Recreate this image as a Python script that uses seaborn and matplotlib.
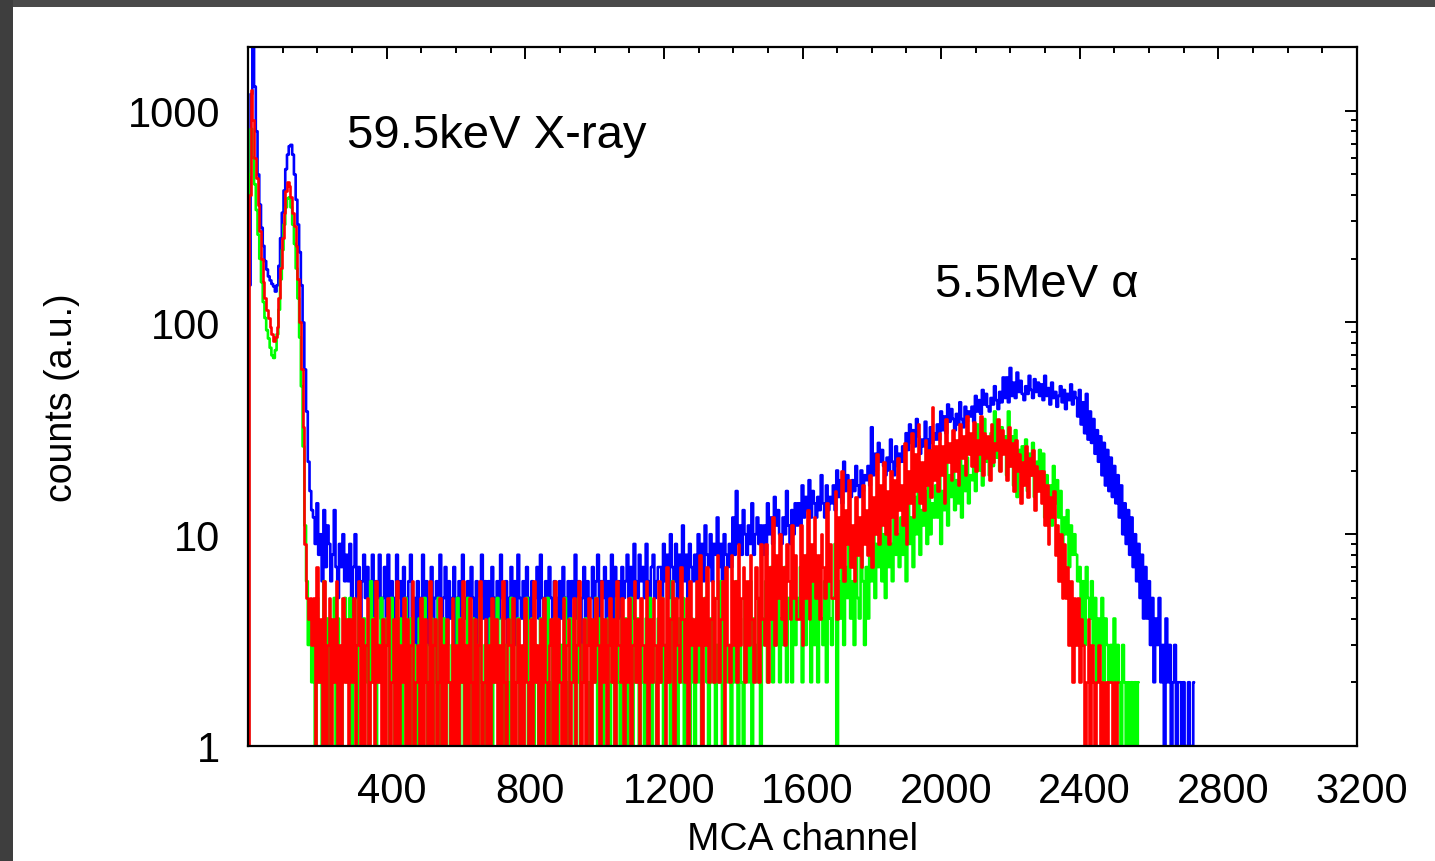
import numpy as np
import pandas as pd
import matplotlib
matplotlib.use("Agg")
import matplotlib.pyplot as plt
import seaborn as sns
from matplotlib.ticker import FixedLocator, MultipleLocator, LogLocator, FuncFormatter, NullFormatter
from matplotlib.patches import Rectangle
from matplotlib.transforms import ScaledTranslation

# ---------------- data ----------------
# channels 0..185, step 5 (low-energy part: 59.5 keV X-ray peak)
peak_start, peak_step = 0, 5
blue_peak = [1, 150, 1200, 2500, 1300, 800, 500, 360, 280, 230,
             195, 178, 165, 158, 152, 148, 140, 150, 185, 250,
             330, 420, 530, 620, 680, 690, 620, 500, 380, 290,
             215, 150, 100, 60, 38, 22, 16, 13]
green_peak = [1, 500, 820, 600, 450, 340, 260, 200, 155, 125,
              105, 92, 84, 76, 70, 68, 74, 88, 115, 160,
              220, 290, 350, 385, 390, 350, 290, 235, 180, 130,
              85, 50, 26, 11, 6, 3, 4, 2]
red_peak = [1, 400, 1250, 900, 600, 480, 360, 270, 200, 155,
            130, 115, 105, 95, 88, 82, 85, 95, 130, 180,
            250, 330, 420, 460, 440, 390, 330, 285, 230, 160,
            100, 60, 32, 9, 5, 4, 5, 3]

# channels from 190 upward, step 5 (flat background + 5.5 MeV alpha bump)
tail_start, tail_step = 190, 5
blue_tail = [
    12, 9, 14, 8, 10, 6, 13, 7, 11, 9, 6, 8, 13, 7, 5, 9, 7, 10, 6, 8,            # 190
    6, 9, 4, 7, 10, 5, 7, 4, 6, 8, 5, 7, 3, 6, 8, 4, 6, 5, 8, 4,                  # 290
    5, 7, 4, 8, 3, 6, 5, 4, 8, 5, 6, 3, 7, 5, 4, 6, 8, 4, 5, 3,                   # 390
    6, 3, 5, 8, 4, 6, 3, 5, 7, 4, 5, 6, 3, 8, 4, 5, 7, 3, 6, 4,                   # 490
    5, 7, 3, 5, 6, 4, 8, 4, 5, 6, 3, 7, 5, 4, 6, 3, 5, 8, 4, 6,                   # 590
    3, 6, 4, 7, 5, 3, 6, 4, 8, 5, 4, 6, 3, 5, 7, 4, 6, 3, 8, 5,                   # 690
    4, 6, 3, 7, 5, 4, 6, 3, 5, 7, 4, 8, 5, 3, 6, 4, 7, 5, 3, 6,                   # 790
    5, 3, 6, 4, 7, 5, 4, 6, 3, 6, 5, 8, 4, 6, 3, 5, 7, 4, 6, 5,                   # 890
    5, 7, 4, 6, 8, 4, 6, 5, 7, 4, 6, 5, 8, 4, 7, 5, 6, 4, 7, 5,                   # 990
    6, 8, 5, 7, 4, 9, 6, 5, 8, 6, 7, 5, 9, 6, 4, 7, 8, 5, 6, 7,                   # 1090
    7, 5, 9, 6, 8, 5, 10, 7, 6, 9, 5, 8, 7, 11, 6, 8, 5, 9, 7, 6,                 # 1190
    8, 6, 10, 7, 9, 6, 11, 8, 7, 10, 6, 9, 8, 12, 7, 9, 6, 10, 8, 7,              # 1290
    9, 7, 12, 8, 16, 9, 11, 8, 13, 10, 8, 11, 9, 14, 8, 10, 12, 9, 11, 8,         # 1390
    11, 8, 14, 10, 12, 9, 15, 11, 13, 10, 9, 12, 10, 16, 11, 9, 13, 10, 14, 11,   # 1490
    14, 11, 17, 12, 15, 13, 18, 12, 16, 14, 12, 15, 13, 19, 14, 12, 17, 13, 15, 14,  # 1590
    17, 13, 20, 15, 18, 14, 22, 16, 19, 17, 15, 18, 16, 21, 17, 15, 20, 16, 19, 18,  # 1690
    21, 17, 32, 19, 24, 20, 27, 22, 25, 21, 19, 23, 20, 28, 22, 19, 26, 21, 24, 22,  # 1790
    26, 22, 30, 25, 33, 27, 31, 26, 35, 29, 24, 28, 26, 34, 28, 25, 32, 27, 30, 28,  # 1890
    33, 28, 38, 31, 36, 30, 41, 34, 39, 35, 31, 37, 33, 42, 35, 32, 40, 34, 38, 36,  # 1990
    40, 34, 45, 38, 43, 37, 48, 41, 46, 40, 38, 44, 41, 50, 43, 39, 47, 42, 55, 44,  # 2090
    55, 42, 61, 45, 52, 44, 58, 47, 53, 46, 43, 50, 46, 56, 48, 44, 54, 47, 52, 45,  # 2190
    51, 43, 56, 45, 49, 41, 52, 44, 47, 40, 45, 50, 42, 48, 39, 46, 43, 51, 41, 47,  # 2290
    44, 36, 48, 33, 42, 30, 46, 28, 38, 27, 35, 24, 31, 22, 29, 19, 27, 17, 25, 16,  # 2390
    23, 15, 21, 14, 19, 12, 17, 10, 14, 9, 13, 8, 12, 7, 10, 6, 9, 5, 8, 4,          # 2490
    7, 4, 6, 3, 5, 2, 4, 3, 5, 2, 3, 1, 4, 2, 3, 1, 2, 3, 1, 2,                      # 2590
    2, 1, 2, 1, 1, 2, 1, 1, 2,                                                      # 2690
]
green_tail = [
    4, 1, 5, 2, 3, 1, 6, 2, 4, 1, 3, 2, 5, 1, 4, 2, 1, 3, 5, 2,      # 190
    3, 5, 1, 4, 2, 1, 5, 3, 1, 4, 2, 3, 1, 6, 2, 4, 1, 3, 2, 5,      # 290
    2, 1, 4, 3, 1, 5, 2, 1, 3, 2, 4, 1, 3, 5, 1, 2, 4, 1, 3, 2,      # 390
    1, 4, 2, 1, 5, 3, 1, 2, 4, 1, 3, 2, 5, 1, 2, 4, 1, 3, 2, 1,      # 490
    3, 1, 2, 5, 1, 4, 2, 1, 3, 5, 2, 1, 4, 2, 3, 1, 5, 2, 1, 3,      # 590
    1, 2, 4, 1, 3, 2, 5, 1, 2, 4, 1, 3, 2, 1, 5, 3, 1, 2, 4, 1,      # 690
    2, 1, 3, 5, 1, 2, 4, 1, 3, 2, 1, 4, 2, 3, 1, 5, 2, 1, 3, 4,      # 790
    4, 1, 2, 3, 1, 5, 2, 1, 4, 2, 3, 1, 2, 5, 1, 3, 2, 4, 1, 2,      # 890
    1, 3, 2, 5, 1, 4, 2, 1, 3, 2, 4, 1, 2, 3, 1, 5, 2, 1, 4, 3,      # 990
    4, 1, 2, 5, 1, 3, 2, 4, 1, 3, 2, 1, 4, 2, 5, 1, 3, 2, 1, 4,      # 1090
    2, 5, 1, 3, 2, 4, 1, 6, 2, 3, 1, 4, 2, 5, 1, 3, 2, 1, 4, 2,      # 1190
    1, 4, 2, 6, 1, 3, 5, 2, 1, 4, 2, 5, 1, 3, 2, 6, 1, 4, 3, 2,      # 1290
    3, 1, 5, 2, 6, 1, 4, 2, 1, 5, 3, 2, 6, 1, 4, 3, 2, 5, 1, 4,      # 1390
    3, 6, 2, 4, 7, 2, 5, 3, 6, 2, 4, 3, 7, 2, 5, 4, 2, 6, 3, 5,      # 1490
    4, 7, 2, 5, 3, 8, 4, 2, 6, 3, 5, 2, 7, 4, 3, 6, 2, 8, 4, 3,      # 1590
    5, 9, 1, 6, 4, 8, 3, 7, 5, 10, 4, 6, 3, 8, 5, 4, 9, 6, 3, 7,     # 1690
    4, 8, 6, 11, 5, 9, 7, 13, 6, 10, 5, 12, 7, 9, 6, 14, 8, 10, 7, 12,        # 1790
    8, 14, 6, 17, 9, 12, 7, 15, 10, 18, 8, 13, 11, 16, 9, 20, 10, 14, 12, 17,  # 1890
    12, 20, 9, 16, 13, 24, 11, 19, 15, 22, 13, 18, 14, 25, 12, 21, 16, 23, 14, 19,  # 1990
    18, 28, 16, 33, 20, 26, 17, 35, 22, 27, 19, 30, 21, 38, 23, 28, 20, 32, 24, 29,  # 2090
    19, 38, 21, 29, 17, 31, 15, 25, 20, 26, 18, 28, 16, 24, 19, 27, 15, 22, 17, 25,  # 2190
    16, 24, 12, 19, 13, 17, 11, 21, 14, 18, 12, 16, 9, 12, 10, 13, 7, 11, 8, 10,    # 2290
    8, 6, 7, 4, 6, 3, 7, 5, 4, 6, 3, 5, 2, 4, 3, 5, 2, 4, 3, 2,                      # 2390
    3, 2, 4, 1, 3, 2, 1, 3, 2, 1, 2, 1, 2, 1, 2, 1, 2,                               # 2490
]
red_tail = [
    5, 1, 7, 2, 4, 1, 6, 1, 3, 5, 1, 4, 2, 6, 1, 3, 1, 5, 2, 4,      # 190
    1, 4, 2, 5, 1, 3, 6, 1, 4, 1, 3, 5, 1, 2, 4, 1, 6, 2, 3, 1,      # 290
    4, 1, 3, 5, 1, 2, 4, 1, 6, 1, 3, 2, 5, 1, 4, 1, 3, 6, 1, 2,      # 390
    3, 1, 5, 1, 4, 2, 1, 6, 1, 3, 4, 1, 2, 5, 1, 3, 1, 4, 2, 1,      # 490
    5, 1, 3, 1, 4, 2, 6, 1, 3, 1, 5, 2, 1, 4, 1, 3, 6, 1, 2, 4,      # 590
    1, 3, 1, 5, 2, 4, 1, 3, 1, 6, 2, 1, 4, 3, 1, 5, 1, 2, 4, 1,      # 690
    3, 1, 5, 2, 1, 4, 1, 6, 2, 3, 1, 4, 1, 5, 2, 1, 3, 4, 1, 6,      # 790
    1, 4, 2, 1, 5, 1, 3, 4, 1, 2, 5, 1, 3, 6, 1, 2, 4, 1, 3, 5,      # 890
    1, 4, 2, 5, 3, 1, 6, 2, 4, 1, 3, 5, 2, 4, 1, 6, 3, 2, 5, 1,      # 990
    4, 2, 5, 1, 3, 6, 2, 4, 1, 5, 3, 2, 6, 1, 4, 2, 5, 3, 1, 6,      # 1090
    2, 5, 3, 1, 7, 2, 4, 6, 1, 5, 3, 2, 7, 4, 2, 5, 1, 6, 3, 4,      # 1190
    2, 6, 3, 8, 1, 5, 3, 7, 2, 4, 6, 2, 5, 8, 2, 4, 6, 1, 7, 3,      # 1290
    2, 8, 3, 6, 2, 9, 3, 5, 7, 2, 6, 3, 8, 4, 2, 7, 5, 2, 9, 4,      # 1390
    3, 9, 2, 7, 4, 12, 3, 8, 5, 10, 4, 7, 3, 9, 6, 4, 11, 5, 8, 4,   # 1490
    4, 11, 3, 8, 5, 13, 4, 9, 6, 12, 5, 8, 4, 10, 7, 5, 14, 6, 9, 5,          # 1590
    5, 16, 4, 12, 7, 20, 6, 13, 9, 18, 7, 11, 6, 15, 8, 12, 7, 17, 9, 13,     # 1690
    8, 19, 7, 15, 10, 24, 9, 17, 11, 22, 10, 16, 9, 20, 12, 18, 10, 23, 13, 17,  # 1790
    11, 27, 9, 20, 14, 30, 12, 24, 16, 33, 14, 22, 13, 28, 17, 25, 15, 40, 18, 26,  # 1890
    16, 30, 19, 26, 14, 35, 22, 27, 18, 31, 20, 28, 17, 33, 23, 29, 19, 36, 24, 30,  # 1990
    21, 34, 20, 28, 24, 36, 19, 30, 23, 29, 18, 33, 22, 27, 25, 35, 20, 31, 24, 28,  # 2090
    18, 32, 21, 27, 16, 28, 20, 24, 14, 22, 17, 26, 15, 23, 19, 25, 13, 21, 16, 20,  # 2190
    14, 20, 11, 17, 9, 15, 12, 16, 8, 11, 6, 10, 5, 9, 5, 7, 3, 6, 2, 5,             # 2290
    3, 5, 2, 4, 3, 1, 2, 4, 1, 3, 2, 1, 2, 3, 1, 2, 1, 2, 1, 2,                      # 2390
    2, 1, 2, 1, 2,                                                                  # 2490
]

series_names = ["blue", "green", "red"]
series_colors = {"blue": "#0000ff", "green": "#00ff00", "red": "#ff0000"}
x_tick_values = [400, 800, 1200, 1600, 2000, 2400, 2800, 3200]
y_tick_values = [1, 10, 100, 1000]
x_label = "MCA channel"
y_label = "counts (a.u.)"
label_xray = "59.5keV X-ray"
label_alpha = "5.5MeV \u03b1"

# ---------------- build long table ----------------
def spectrum(name, peak, tail):
    ch = list(range(peak_start, peak_start + peak_step * len(peak), peak_step)) + \
         list(range(tail_start, tail_start + tail_step * len(tail), tail_step))
    return pd.DataFrame({"channel": ch, "counts": peak + tail, "series": name})

df = pd.concat([
    spectrum("blue", blue_peak, blue_tail),
    spectrum("green", green_peak, green_tail),
    spectrum("red", red_peak, red_tail),
], ignore_index=True)

# ---------------- figure ----------------
sns.set_style("white")
plt.rcParams["font.family"] = ["Liberation Sans", "DejaVu Sans"]

W, H = 1435, 862
fig = plt.figure(figsize=(W / 100, H / 100), dpi=100)
fig.patch.set_facecolor("white")
ax = fig.add_axes([248 / W, (H - 747) / H, 1109 / W, 699 / H])

sns.lineplot(data=df, x="channel", y="counts", hue="series",
             hue_order=series_names, palette=series_colors,
             estimator=None, sort=False, legend=False, errorbar=None,
             drawstyle="steps-mid", linewidth=1.9, ax=ax)

ax.set_yscale("log")
ax.set_xlim(0, 3200)
ax.set_ylim(1, 2000)

ax.xaxis.set_major_locator(FixedLocator(x_tick_values))
ax.xaxis.set_minor_locator(MultipleLocator(100))
ax.yaxis.set_major_locator(FixedLocator(y_tick_values))
ax.yaxis.set_minor_locator(LogLocator(base=10, subs=range(2, 10)))
ax.yaxis.set_major_formatter(FuncFormatter(lambda v, p: f"{v:g}"))
ax.yaxis.set_minor_formatter(NullFormatter())

ax.tick_params(which="both", direction="in", top=True, right=True,
               width=1.4, color="black", labelcolor="black")
ax.tick_params(which="major", length=8.5)
ax.tick_params(which="minor", length=4)
ax.tick_params(axis="x", which="major", pad=18, labelsize=30)
ax.tick_params(axis="y", which="major", pad=20, labelsize=30)

for lab in ax.get_xticklabels():
    lab.set_transform(lab.get_transform() + ScaledTranslation(5 / 100, 0, fig.dpi_scale_trans))

for sp in ax.spines.values():
    sp.set_color("black")
    sp.set_linewidth(1.6)
ax.grid(False)

ax.set_xlabel(x_label, fontsize=28, color="black")
ax.xaxis.set_label_coords(0.5, -0.108)
ax.set_ylabel(y_label, fontsize=27, color="black")
ax.yaxis.set_label_coords(-0.1515, 0.5)

ax.text(0.0893, 0.857, label_xray, transform=ax.transAxes, fontsize=34,
        va="baseline", ha="left", color="black")
ax.text(0.6195, 0.644, label_alpha, transform=ax.transAxes, fontsize=34,
        va="baseline", ha="left", color="black")

# dark screenshot frame at top and left
fig.add_artist(Rectangle((0, 1 - 8 / H), 1, 8 / H, transform=fig.transFigure,
                         facecolor="#4a4a4a", edgecolor="none", zorder=-5))
fig.add_artist(Rectangle((0, 0), 13 / W, 1, transform=fig.transFigure,
                         facecolor="#3e3e3e", edgecolor="none", zorder=-5))

fig.savefig("out.png", dpi=100)
